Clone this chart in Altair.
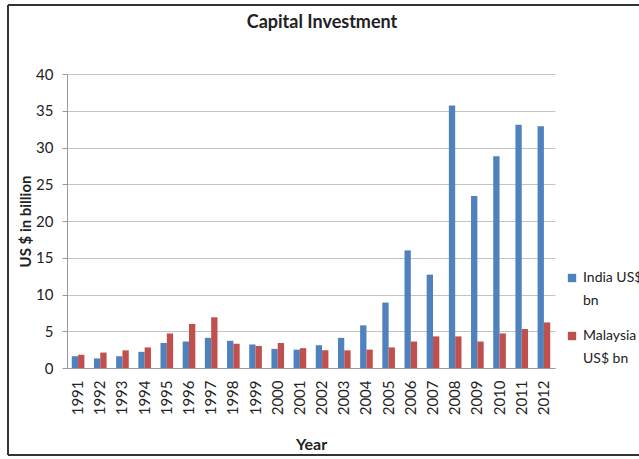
import altair as alt
import pandas as pd

# Capital investment, US$ billion
years = [str(y) for y in range(1991, 2013)]
india = [1.6, 1.3, 1.6, 2.2, 3.4, 3.6, 4.1, 3.7, 3.2, 2.6, 2.5, 3.1, 4.1,
         5.8, 8.9, 16.0, 12.7, 35.7, 23.4, 28.8, 33.1, 32.9]
malaysia = [1.8, 2.1, 2.4, 2.8, 4.7, 6.0, 6.9, 3.3, 3.0, 3.4, 2.7, 2.4, 2.4,
            2.5, 2.8, 3.6, 4.3, 4.3, 3.6, 4.7, 5.3, 6.2]
series = ["India US$ bn", "Malaysia US$ bn"]
colors = ["#4F81BD", "#C0504D"]

df = pd.DataFrame({
    "Year": years * 2,
    "Series": [series[0]] * len(years) + [series[1]] * len(years),
    "Value": india + malaysia,
})

FONT = "Lato"
W, H = 488, 294

bars = alt.Chart(df).mark_bar().encode(
    x=alt.X("Year:N", sort=years,
            scale=alt.Scale(paddingInner=0.43, paddingOuter=0.215),
            axis=alt.Axis(title="Year", labelAngle=-90, ticks=False,
                          labelPadding=12, labelFontSize=15, labelColor="#222",
                          titleFontSize=16, titleFontWeight="bold",
                          titleColor="#222", titleX=W / 2, titleY=76,
                          titleBaseline="middle",
                          domainColor="#9a9a9a")),
    xOffset=alt.XOffset("Series:N", sort=series),
    y=alt.Y("Value:Q", scale=alt.Scale(domain=[0, 40], nice=False),
            axis=alt.Axis(title="US $ in billion", values=list(range(0, 45, 5)),
                          tickSize=5, tickColor="#9a9a9a", labelPadding=9,
                          labelFontSize=15, labelColor="#222",
                          gridColor="#c4c4c4", domainColor="#9a9a9a",
                          titleFontSize=15, titleFontWeight="bold",
                          titleColor="#222", titleX=-42, titleY=H / 2,
                          titleAngle=-90, titleAlign="center",
                          titleBaseline="middle")),
    color=alt.Color("Series:N", sort=series,
                    scale=alt.Scale(domain=series, range=colors),
                    legend=alt.Legend(
                        title=None, orient="none", legendX=498, legendY=197,
                        symbolType="square", symbolSize=70,
                        symbolStrokeWidth=0, labelFontSize=14,
                        labelColor="#222", rowPadding=21, labelLimit=200,
                        labelExpr="datum.label == 'India US$ bn' ? ['India US$', 'bn'] : ['Malaysia', 'US$ bn']")),
)

one = pd.DataFrame({"k": [0]})
frame_style = dict(color="#333333", strokeWidth=2)
frame_top = alt.Chart(one).mark_rule(**frame_style).encode(
    x=alt.value(-59), x2=alt.value(W + 100), y=alt.value(-69))
frame_left = alt.Chart(one).mark_rule(**frame_style).encode(
    x=alt.value(-59), y=alt.value(-69), y2=alt.value(381))
frame_bottom = alt.Chart(one).mark_rule(**frame_style).encode(
    x=alt.value(-59), x2=alt.value(W + 100), y=alt.value(381))

chart = alt.layer(bars, frame_top, frame_left, frame_bottom).properties(
    width=W, height=H,
    title=alt.TitleParams("Capital Investment", fontSize=18, fontWeight="bold",
                          color="#222", anchor="middle", offset=-28, dx=11,
                          font=FONT),
    autosize=alt.AutoSizeParams(type="none"),
    padding={"left": 67, "top": 74, "right": 84, "bottom": 91},
).configure(
    font=FONT, background="white",
    style={"guide-label": {"lineHeight": 23}},
).configure_view(stroke=None)

chart.save("out.html", embed_options={"renderer": "svg", "actions": False})
